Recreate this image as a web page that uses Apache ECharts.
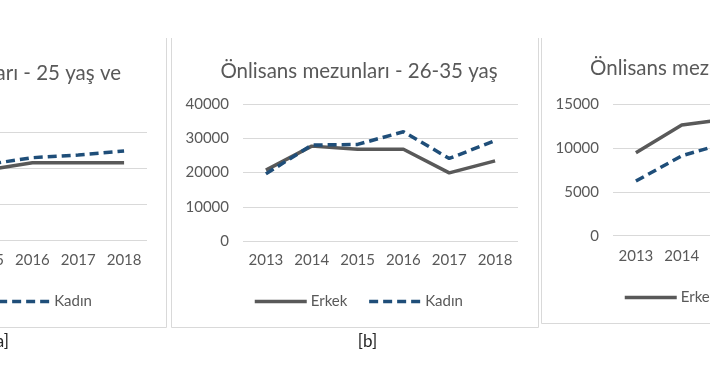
<!DOCTYPE html>
<html>
<head>
<meta charset="utf-8">
<script src="https://cdn.jsdelivr.net/npm/echarts@6/dist/echarts.min.js"></script>
<style>
  html, body { margin: 0; padding: 0; width: 710px; height: 375px; overflow: hidden; background: #ffffff; }
  #chart { position: absolute; left: -380px; top: 0; width: 1300px; height: 375px; }
</style>
</head>
<body>
<div id="chart"></div>
<script>
// ---- data ----
const years = ['2013', '2014', '2015', '2016', '2017', '2018'];
const seriesNames = ['Erkek', 'Kadın'];

// [a] Önlisans mezunları - 25 yaş ve altı
const titleA1 = 'Önlisans mezunları - 25 yaş ve';
const titleA2 = 'altı';
const erkekA = [17500, 18500, 19600, 21600, 21600, 21600];
const kadinA = [18000, 19500, 21100, 23000, 23750, 24850];
const ticksA = [0, 10000, 20000, 30000];

// [b] Önlisans mezunları - 26-35 yaş
const titleB = 'Önlisans mezunları - 26-35 yaş';
const erkekB = [20700, 27700, 26800, 26800, 19900, 23400];
const kadinB = [19600, 28000, 28200, 31900, 24100, 29300];
const ticksB = [0, 10000, 20000, 30000, 40000];

// [c] Önlisans mezunları - 36 yaş ve üstü
const titleC = 'Önlisans mezunları - 36 yaş ve üstü';
const erkekC = [9450, 12600, 13300, 13500, 13000, 13800];
const kadinC = [6230, 9100, 10600, 11500, 11000, 12000];
const ticksC = [0, 5000, 10000, 15000];

const panelLabels = ['[a]', '[b]', '[c]'];

// ---- styles ----
const FONT = 'Lato, "Open Sans", sans-serif';
const GRAY = '#595959';
const BLUE = '#1f4e79';
const GRID_C = '#d9d9d9';
const TXT = '#595959';
const TITLE_STYLE = { color: TXT, fontFamily: FONT, fontSize: 20.5, fontWeight: 'normal' };

// panel layout (chart coordinates)
const panels = [
  { px0: 180, px1: 546, bottom: 327, gl: 252, gt: 132.5, gh: 108, xlabM: 12, legTop: 289, lblDx: 17, e: erkekA, k: kadinA, ticks: ticksA },
  { px0: 551, px1: 918, bottom: 327, gl: 623, gt: 104, gh: 137, xlabM: 12, legTop: 289, lblDx: 13, e: erkekB, k: kadinB, ticks: ticksB },
  { px0: 921, px1: 1288, bottom: 323, gl: 993, gt: 104, gh: 131.7, xlabM: 13, legTop: 285, lblDx: 13, e: erkekC, k: kadinC, ticks: ticksC }
];

const title = [
  { text: titleA1, left: 496, top: 58, textAlign: 'right', textStyle: TITLE_STYLE },
  { text: titleA2, left: 330, top: 84, textAlign: 'center', textStyle: TITLE_STYLE },
  { text: titleB, left: 734, top: 56, textAlign: 'center', textStyle: TITLE_STYLE },
  { text: titleC, left: 965, top: 53, textAlign: 'left', textStyle: TITLE_STYLE }
];

const grid = [], xAxis = [], yAxis = [], series = [], legend = [], graphic = [];

panels.forEach((p, i) => {
  grid.push({ left: p.gl, top: p.gt, width: 275, height: p.gh, containLabel: false });
  xAxis.push({
    type: 'category', gridIndex: i, data: years, boundaryGap: true,
    axisLine: { show: false }, axisTick: { show: false },
    axisLabel: { color: TXT, fontFamily: FONT, fontSize: 15, margin: p.xlabM }
  });
  const t = p.ticks;
  yAxis.push({
    type: 'value', gridIndex: i, min: t[0], max: t[t.length - 1], interval: t[1] - t[0],
    axisLine: { show: false }, axisTick: { show: false },
    axisLabel: { color: TXT, fontFamily: FONT, fontSize: 15, margin: 14, formatter: v => String(v) },
    splitLine: { lineStyle: { color: GRID_C, width: 1 } }
  });
  series.push({
    name: seriesNames[0], type: 'line', xAxisIndex: i, yAxisIndex: i, data: p.e,
    symbol: 'none', showSymbol: false, lineStyle: { color: GRAY, width: 3.5 }, itemStyle: { color: GRAY }
  });
  series.push({
    name: seriesNames[1], type: 'line', xAxisIndex: i, yAxisIndex: i, data: p.k,
    symbol: 'none', showSymbol: false, lineStyle: { color: BLUE, width: 3.5, type: [9, 5] }, itemStyle: { color: BLUE }
  });
  legend.push({
    data: seriesNames, left: p.px0 + 77, top: p.legTop, itemWidth: 52, itemHeight: 14, itemGap: 20,
    itemStyle: { opacity: 0 },
    lineStyle: { width: 3.5 },
    textStyle: { color: TXT, fontFamily: FONT, fontSize: 15, padding: [0, 0, 0, -1] }, selectedMode: false
  });
  graphic.push({
    type: 'polyline', silent: true,
    shape: { points: [[p.px0 + 0.5, 38], [p.px0 + 0.5, p.bottom + 0.5], [p.px1 + 0.5, p.bottom + 0.5], [p.px1 + 0.5, 38]] },
    style: { stroke: GRID_C, lineWidth: 1, fill: null }
  });
  graphic.push({
    type: 'text', silent: true, x: (p.px0 + p.px1) / 2 + p.lblDx, y: 342,
    style: { text: panelLabels[i], fill: '#262626', font: '17px ' + FONT, textAlign: 'center', textVerticalAlign: 'middle' }
  });
});

const chart = echarts.init(document.getElementById('chart'), null, { renderer: 'canvas' });
chart.setOption({
  animation: false,
  backgroundColor: '#ffffff',
  title, grid, xAxis, yAxis, series, legend, graphic
});
</script>
</body>
</html>
